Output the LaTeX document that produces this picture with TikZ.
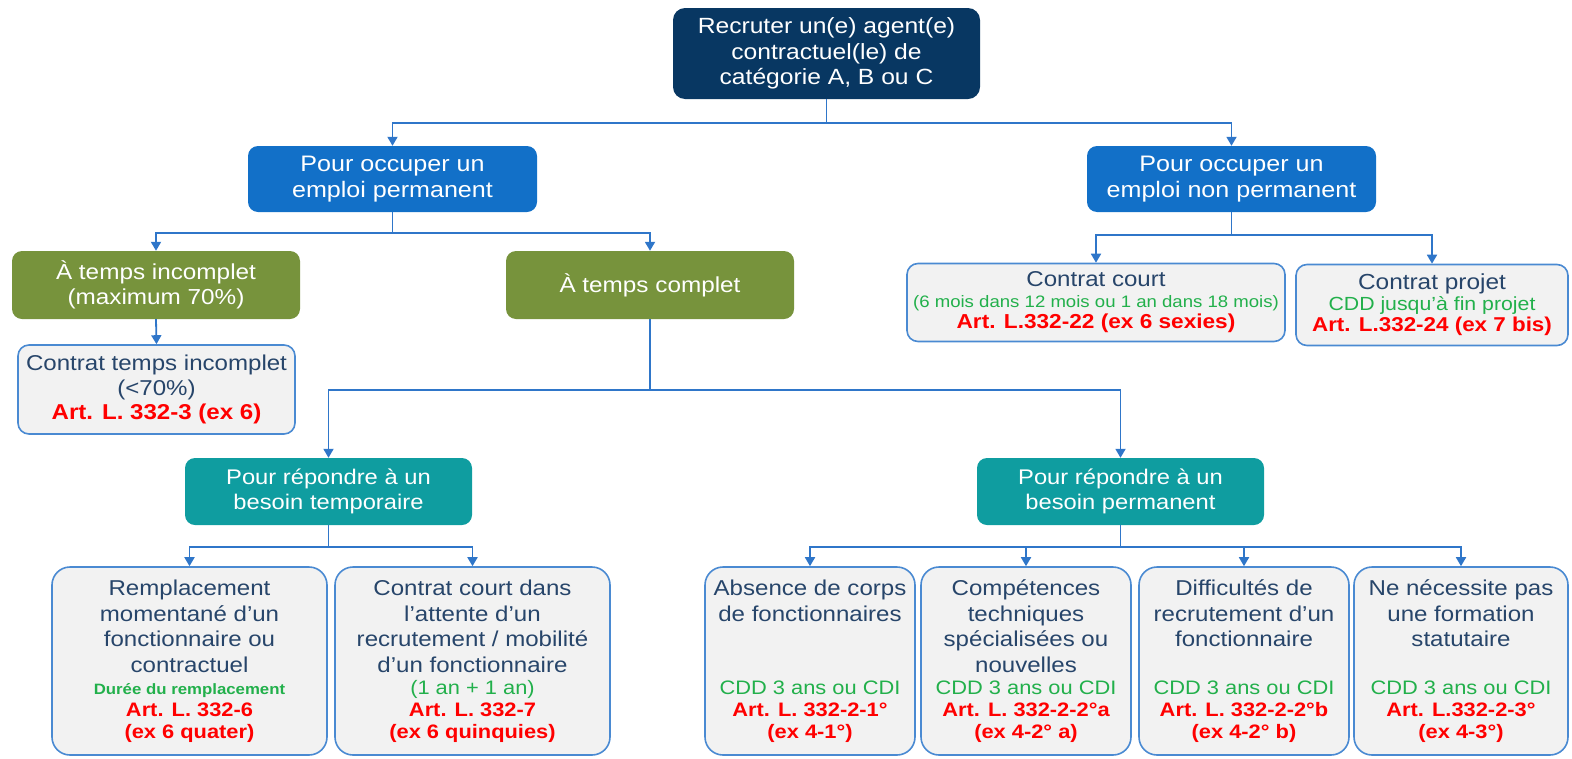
\documentclass[tikz,border=0pt]{standalone}
\usepackage{fontspec}
\setmainfont{Liberation Sans}[FakeStretch=1.12]
\usetikzlibrary{arrows.meta}
\definecolor{cnavy}{HTML}{083762}
\definecolor{cblue}{HTML}{1270C8}
\definecolor{colive}{HTML}{77933C}
\definecolor{cteal}{HTML}{0F9DA0}
\definecolor{cgrayfill}{HTML}{F2F2F2}
\definecolor{cborder}{HTML}{4A8AD2}
\definecolor{cline}{HTML}{2F76C9}
\definecolor{ctext}{HTML}{27456A}
\definecolor{cgreen}{HTML}{22B04B}
\definecolor{cred}{HTML}{FF0000}
\newcommand\tgreen[1]{{\color{cgreen}#1}}
\newcommand\tred[1]{{\color{cred}\bfseries #1}}
\newcommand\bgreen[1]{{\fontsize{19.5}{22}\selectfont\color{cgreen}#1}}
\newcommand\bred[1]{{\fontsize{19.5}{22}\selectfont\color{cred}\bfseries #1}}
\begin{document}
\begin{tikzpicture}[x=1pt,y=-1pt,
  base/.style={align=center, inner sep=0pt, text=white},
  navybox/.style={base, fill=cnavy, rounded corners=12pt, minimum width=307, minimum height=91, font=\fontsize{22}{25.5}\selectfont},
  bluebox/.style={base, fill=cblue, rounded corners=10pt, minimum width=289, minimum height=66, font=\fontsize{22.4}{26}\selectfont},
  olivebox/.style={base, fill=colive, rounded corners=10pt, minimum width=288, minimum height=68, font=\fontsize{21.7}{25}\selectfont},
  tealbox/.style={base, fill=cteal, rounded corners=10pt, minimum width=287, minimum height=67, font=\fontsize{21.2}{25.5}\selectfont},
  graybox/.style={align=center, inner sep=0pt, text=ctext, fill=cgrayfill, draw=cborder, line width=1.6pt, rounded corners=11pt},
  botbox/.style={graybox, rounded corners=18pt, minimum height=188, font=\fontsize{21.5}{25.5}\selectfont},
  conn/.style={draw=cline, line width=1.8pt, -{Triangle[length=9pt,width=10pt]}}
]
\useasboundingbox (0,0) rectangle (1572,758);

% level 0
\node[navybox] (top) at (826.5,53.5) {Recruter un(e) agent(e)\\contractuel(le) de\\catégorie A, B ou C};

% level 1
\node[bluebox] (perm) at (392.5,179) {Pour occuper un\\emploi permanent};
\node[bluebox] (nperm) at (1231.5,179) {Pour occuper un\\emploi non permanent};

% level 2 left
\node[olivebox] (incomp) at (156,285) {À temps incomplet\\(maximum 70\%)};
\node[olivebox] (comp) at (650,285) {À temps complet};

\node[graybox, minimum width=277, minimum height=89, font=\fontsize{21.5}{24.5}\selectfont] (cti) at (156.5,389.5)
  {Contrat temps incomplet\\(<70\%)\\\tred{Art. L. 332-3 (ex 6)}};

% level 2 right
\node[graybox, minimum width=378, minimum height=78, font=\fontsize{21.5}{21}\selectfont] (ccourt) at (1096,302.5)
  {Contrat court\\{\fontsize{16.6}{18}\selectfont\tgreen{(6 mois dans 12 mois ou 1 an dans 18 mois)}}\\{\fontsize{20.2}{20}\selectfont\tred{Art. L.332-22 (ex 6 sexies)}}};
\node[graybox, minimum width=272, minimum height=81, font=\fontsize{21.8}{21}\selectfont] (cproj) at (1432,305)
  {Contrat projet\\{\fontsize{19}{20}\selectfont\tgreen{CDD jusqu’à fin projet}}\\{\fontsize{20}{20}\selectfont\tred{Art. L.332-24 (ex 7 bis)}}};

% level 3
\node[tealbox] (temp) at (328.5,491.5) {Pour répondre à un\\besoin temporaire};
\node[tealbox] (bperm) at (1120.5,491.5) {Pour répondre à un\\besoin permanent};

% level 4 left
\node[botbox, minimum width=275] (rempl) at (189.5,661)
  {Remplacement\\momentané d’un\\fonctionnaire ou\\contractuel\\[-3.5pt]{\fontsize{15}{16}\selectfont\tgreen{\bfseries Durée du remplacement}}\\[-3.5pt]\bred{Art. L. 332-6}\\[-3.5pt]\bred{(ex 6 quater)}};
\node[botbox, minimum width=275] (attente) at (472.5,661)
  {Contrat court dans\\l’attente d’un\\recrutement / mobilité\\d’un fonctionnaire\\[-3.5pt]\bgreen{(1 an + 1 an)}\\[-3.5pt]\bred{Art. L. 332-7}\\[-3.5pt]\bred{(ex 6 quinquies)}};

% level 4 right
\node[botbox, minimum width=210] (absence) at (810,661)
  {Absence de corps\\de fonctionnaires\\\mbox{}\\\mbox{}\\[-3.5pt]\bgreen{CDD 3 ans ou CDI}\\[-3.5pt]\bred{Art. L. 332-2-1°}\\[-3.5pt]\bred{(ex 4-1°)}};
\node[botbox, minimum width=210] (compet) at (1026,661)
  {Compétences\\techniques\\spécialisées ou\\nouvelles\\[-3.5pt]\bgreen{CDD 3 ans ou CDI}\\[-3.5pt]\bred{Art. L. 332-2-2°a}\\[-3.5pt]\bred{(ex 4-2° a)}};
\node[botbox, minimum width=210] (diffic) at (1244,661)
  {Difficultés de\\recrutement d’un\\fonctionnaire\\\mbox{}\\[-3.5pt]\bgreen{CDD 3 ans ou CDI}\\[-3.5pt]\bred{Art. L. 332-2-2°b}\\[-3.5pt]\bred{(ex 4-2° b)}};
\node[botbox, minimum width=214] (nenec) at (1461,661)
  {Ne nécessite pas\\une formation\\statutaire\\\mbox{}\\[-3.5pt]\bgreen{CDD 3 ans ou CDI}\\[-3.5pt]\bred{Art. L.332-2-3°}\\[-3.5pt]\bred{(ex 4-3°)}};

% connectors
\draw[conn] (top.south) -- ++(0,23.5) coordinate (j0) -| (perm.north);
\draw[conn] (j0) -| (nperm.north);

\draw[conn] (perm.south) -- ++(0,21) coordinate (j1) -| (incomp.north);
\draw[conn] (j1) -| (comp.north);

\draw[conn] (nperm.south) -- ++(0,23) coordinate (j2) -| (ccourt.north);
\draw[conn] (j2) -| (cproj.north);

\draw[conn] (incomp.south) -- (cti.north);

\draw[conn] (comp.south) -- ++(0,71) coordinate (j3) -| (temp.north);
\draw[conn] (j3) -| (bperm.north);

\draw[conn] (temp.south) -- ++(0,22) coordinate (j4) -| (rempl.north);
\draw[conn] (j4) -| (attente.north);

\draw[conn] (bperm.south) -- ++(0,22) coordinate (j5) -| (absence.north);
\draw[conn] (j5) -| (compet.north);
\draw[conn] (j5) -| (diffic.north);
\draw[conn] (j5) -| (nenec.north);
\end{tikzpicture}
\end{document}
